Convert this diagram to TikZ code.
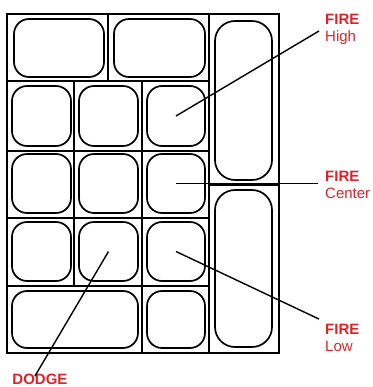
\documentclass[tikz,border=0pt]{standalone}
\usepackage{fontspec}
\setmainfont{Liberation Sans}
\definecolor{lbl}{RGB}{224,34,40}
\begin{document}
\begin{tikzpicture}[x=1pt,y=-1pt,
  grid/.style={line width=1.5pt,black},
  pan/.style={draw,line width=1.7pt,rounded corners=15pt,inner sep=0pt,outer sep=0pt},
  tallpan/.style={pan,rounded corners=20pt},
  lead/.style={line width=1.4pt,black},
  lab/.style={text=lbl,align=left,inner sep=0pt,font=\fontsize{15}{17}\selectfont},
  ]
\useasboundingbox (0,0) rectangle (372,387);
% grid
\draw[grid] (7,14) rectangle (279,353);
\draw[grid] (209,14) -- (209,353);
\draw[grid] (209,185) -- (279,185);
\draw[grid] (108,14) -- (108,81);
\draw[grid] (7,81) -- (209,81);
\draw[grid] (7,151) -- (209,151);
\draw[grid] (7,218) -- (209,218);
\draw[grid] (7,286) -- (209,286);
\draw[grid] (74,81) -- (74,286);
\draw[grid] (142,81) -- (142,353);
% pans: helper via corners
\newcommand\panat[6][pan]{\node[#1,minimum width={#5-#3},minimum height={#6-#4}] (#2) at ({(#3+#5)/2},{(#4+#6)/2}) {};}
\panat{a1}{14}{19}{104}{77}
\panat{a2}{114}{19}{205}{77}
\panat{b1}{12}{86}{71}{146}
\panat{b2}{79}{86}{138}{146}
\panat{b3}{147}{86}{205}{146}
\panat{c1}{12}{154}{71}{213}
\panat{c2}{79}{154}{138}{213}
\panat{c3}{147}{154}{205}{213}
\panat{d1}{12}{222}{71}{281}
\panat{d2}{79}{222}{138}{281}
\panat{d3}{147}{222}{205}{281}
\panat{e1}{12}{291}{138}{348}
\panat{e3}{147}{291}{205}{348}
\panat[tallpan]{r1}{215}{21}{272}{180}
\panat[tallpan]{r2}{215}{190}{272}{347}
% labels
\node[lab,anchor=west] (high) at (325,29) {\textbf{FIRE}\\High};
\node[lab,anchor=west] (center) at (325,185) {\textbf{FIRE}\\Center};
\node[lab,anchor=west] (low) at (325,338) {\textbf{FIRE}\\Low};
\node[lab,anchor=north] (dodge) at (40,374) {\textbf{DODGE}};
% leaders
\draw[lead] (b3.center) -- ([xshift=-6pt,yshift=-2pt]high.west);
\draw[lead] (c3.center) -- ([xshift=-7pt]c3.center -| center.west);
\draw[lead] (d3.center) -- ([xshift=-6pt,yshift=5pt]low.north west);
\draw[lead] (d2.center) -- ([xshift=-5pt,yshift=-2pt]dodge.north);
\end{tikzpicture}
\end{document}
